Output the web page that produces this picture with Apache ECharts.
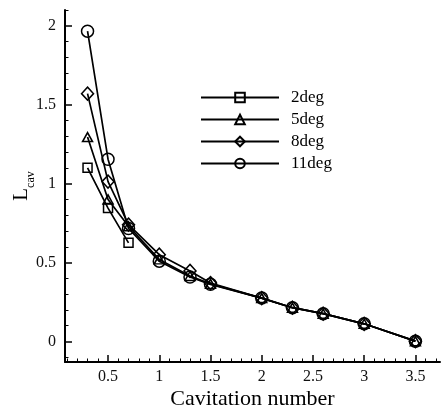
<!DOCTYPE html>
<html>
<head>
<meta charset="utf-8">
<title>Lcav vs cavitation number</title>
<script src="https://cdn.jsdelivr.net/npm/echarts@6/dist/echarts.min.js"></script>
<style>
    html, body { margin: 0; padding: 0; background: #fff; }
    #chart { width: 441px; height: 408px; }
</style>
</head>
<body>
<div id="chart"></div>
<script>
'use strict';

// 空化数
var sigma2 = [0.3, 0.5, 0.7];
var sigma = [0.3, 0.5, 0.7, 1.0, 1.3, 1.5, 2.0, 2.3, 2.6, 3.0, 3.5];
// 空泡长度 (各攻角)
var lcav2deg = [1.10, 0.845, 0.625];
var lcav5deg = [1.295, 0.90, 0.73, 0.52, 0.415, 0.365, 0.275, 0.214, 0.176, 0.112, 0.002];
var lcav8deg = [1.57, 1.013, 0.74, 0.55, 0.447, 0.37, 0.275, 0.214, 0.176, 0.112, 0.002];
var lcav11deg = [1.966, 1.155, 0.716, 0.509, 0.409, 0.362, 0.275, 0.214, 0.176, 0.112, 0.002];
var seriesNames = ['2deg', '5deg', '8deg', '11deg'];
// 刻度
var xMajor = [0.5, 1, 1.5, 2, 2.5, 3, 3.5];
var xMinor = [0.1, 0.2, 0.3, 0.4, 0.6, 0.7, 0.8, 0.9, 1.1, 1.2, 1.3, 1.4, 1.6, 1.7, 1.8, 1.9,
    2.1, 2.2, 2.3, 2.4, 2.6, 2.7, 2.8, 2.9, 3.1, 3.2, 3.3, 3.4, 3.6, 3.7];
var yMajor = [0, 0.5, 1, 1.5, 2];
var yMinor = [-0.1, 0.1, 0.2, 0.3, 0.4, 0.6, 0.7, 0.8, 0.9, 1.1, 1.2, 1.3, 1.4,
    1.6, 1.7, 1.8, 1.9, 2.1];

var font = 'Liberation Serif';

var pairs = function(xs, ys) {
    return ys.map(function(v, i) { return [xs[i], v]; });
};

// 公共线样式
var lineSeries = function(name, data, symbol, size) {
    return {
        name: name,
        type: 'line',
        data: data,
        symbol: symbol,
        symbolSize: size,
        showAllSymbol: true,
        color: '#000',
        lineStyle: { color: '#000', width: 1.7 },
        itemStyle: { color: 'rgba(0,0,0,0)', borderColor: '#000', borderWidth: 1.5 },
        emphasis: { disabled: true },
        animation: false,
        z: 3
    };
};

var chart = echarts.init(document.getElementById('chart'));

var xBase = {
    type: 'value',
    min: 0.08,
    max: 3.74,
    splitLine: { show: false }
};
var yBase = {
    type: 'value',
    min: -0.13,
    max: 2.1,
    splitLine: { show: false }
};

var option = {
    backgroundColor: '#fff',
    animation: false,
    grid: { left: 65, right: 1, top: 10, bottom: 46, containLabel: false, outerBoundsMode: 'none' },
    legend: {
        orient: 'vertical',
        left: 195,
        top: 84,
        itemWidth: 78,
        itemHeight: 12,
        itemGap: 5,
        selectedMode: false,
        data: seriesNames,
        lineStyle: { width: 2 },
        textStyle: { fontFamily: font, fontSize: 17, color: '#000', padding: [0, 0, 0, 7] }
    },
    xAxis: [
        Object.assign({}, xBase, {
            position: 'bottom',
            name: 'Cavitation number',
            nameLocation: 'middle',
            nameGap: 26,
            nameMoveOverlap: false,
            nameTextStyle: { fontFamily: font, fontSize: 22, color: '#000' },
            axisLine: { show: true, onZero: false, lineStyle: { color: '#000', width: 2 } },
            axisTick: { show: true, inside: true, length: 7, customValues: xMajor, lineStyle: { color: '#000', width: 1.5 } },
            axisLabel: { show: true, margin: 7, customValues: xMajor, fontFamily: font, fontSize: 16, color: '#111' }
        }),
        Object.assign({}, xBase, {
            position: 'bottom',
            axisLine: { show: false, onZero: false },
            axisTick: { show: true, inside: true, length: 3.5, customValues: xMinor, lineStyle: { color: '#000', width: 1 } },
            axisLabel: { show: false }
        })
    ],
    yAxis: [
        Object.assign({}, yBase, {
            position: 'left',
            name: '{a|L}{b|cav}',
            nameLocation: 'middle',
            nameGap: 28,
            nameMoveOverlap: false,
            nameTextStyle: {
                fontFamily: font,
                color: '#000',
                rich: {
                    a: { fontFamily: font, fontSize: 21, color: '#000', verticalAlign: 'bottom', padding: [0, 0, 5, 0] },
                    b: { fontFamily: font, fontSize: 12, color: '#000', verticalAlign: 'bottom' }
                }
            },
            axisLine: { show: true, onZero: false, lineStyle: { color: '#000', width: 2 } },
            axisTick: { show: true, inside: true, length: 7, customValues: yMajor, lineStyle: { color: '#000', width: 1.5 } },
            axisLabel: { show: true, margin: 9, customValues: yMajor, fontFamily: font, fontSize: 16, color: '#111' }
        }),
        Object.assign({}, yBase, {
            position: 'left',
            axisLine: { show: false, onZero: false },
            axisTick: { show: true, inside: true, length: 3.5, customValues: yMinor, lineStyle: { color: '#000', width: 1 } },
            axisLabel: { show: false }
        })
    ],
    series: [
        lineSeries(seriesNames[0], pairs(sigma2, lcav2deg), 'rect', 9),
        lineSeries(seriesNames[1], pairs(sigma, lcav5deg), 'triangle', [10, 9]),
        lineSeries(seriesNames[2], pairs(sigma, lcav8deg), 'diamond', [12, 13]),
        lineSeries(seriesNames[3], pairs(sigma, lcav11deg), 'circle', 12)
    ]
};

chart.setOption(option);
</script>
</body>
</html>
